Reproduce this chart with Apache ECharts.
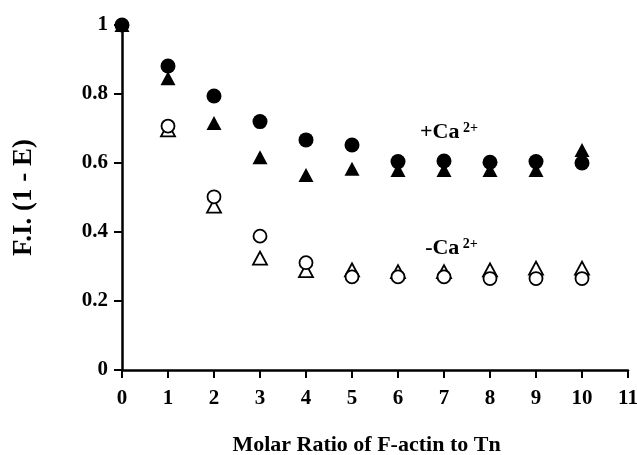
<!DOCTYPE html>
<html>
<head>
<meta charset="utf-8">
<script src="https://cdn.jsdelivr.net/npm/echarts@6/dist/echarts.min.js"></script>
<style>
  html, body { margin: 0; padding: 0; background: #fff; }
  #chart { width: 637px; height: 455px; }
</style>
</head>
<body>
<div id="chart"></div>
<script>
// Fluorescence intensity vs. molar ratio of F-actin to troponin
const ratios = [0, 1, 2, 3, 4, 5, 6, 7, 8, 9, 10];
const plusCaCircle   = [1.0, 0.881, 0.794, 0.72, 0.667, 0.652, 0.604, 0.606, 0.602, 0.604, 0.60];
const plusCaTriangle = [1.0, 0.846, 0.716, 0.617, 0.565, 0.583, 0.58, 0.58, 0.58, 0.58, 0.638];
const minusCaCircle   = [null, 0.707, 0.502, 0.388, 0.311, 0.27, 0.27, 0.27, 0.265, 0.265, 0.265];
const minusCaTriangle = [null, 0.696, 0.475, 0.324, 0.288, 0.29, 0.285, 0.285, 0.29, 0.295, 0.295];
const xTicks = [0, 1, 2, 3, 4, 5, 6, 7, 8, 9, 10, 11];
const yTicks = [0, 0.2, 0.4, 0.6, 0.8, 1];
const annotations = [
  { x: 6.48, y: 0.69, sign: '+' },
  { x: 6.59, y: 0.353, sign: '-' }
];

const FONT = '"Liberation Serif", "Times New Roman", serif';
const pairs = (vals) => ratios.map((r, i) => [r, vals[i]]).filter(p => p[1] !== null);

const chart = echarts.init(document.getElementById('chart'));
chart.setOption({
  backgroundColor: '#fff',
  animation: false,
  grid: { left: 122, right: 9, top: 25, bottom: 85, containLabel: false, outerBoundsMode: 'none' },
  xAxis: {
    type: 'value',
    min: xTicks[0],
    max: xTicks[xTicks.length - 1],
    interval: 1,
    name: 'Molar Ratio of F-actin to Tn',
    nameLocation: 'middle',
    nameGap: 64,
    nameTextStyle: { fontFamily: FONT, fontWeight: 'bold', fontSize: 22, color: '#000', padding: [0, 17, 0, 0] },
    axisLine: { lineStyle: { color: '#000', width: 2.5 } },
    axisTick: { show: true, length: 8, lineStyle: { color: '#000', width: 2 } },
    axisLabel: { fontFamily: FONT, fontWeight: 'bold', fontSize: 21, color: '#000', margin: 18 },
    splitLine: { show: false }
  },
  yAxis: {
    type: 'value',
    min: yTicks[0],
    max: yTicks[yTicks.length - 1],
    interval: 0.2,
    name: 'F.I. (1 - E)',
    nameLocation: 'middle',
    nameGap: 84,
    nameRotate: 90,
    nameTextStyle: { fontFamily: FONT, fontWeight: 'bold', fontSize: 27, color: '#000' },
    axisLine: { show: true, lineStyle: { color: '#000', width: 2.5 } },
    axisTick: { show: true, length: 8, lineStyle: { color: '#000', width: 2 } },
    axisLabel: { fontFamily: FONT, fontWeight: 'bold', fontSize: 21, color: '#000', margin: 14 },
    splitLine: { show: false }
  },
  series: [
    {
      name: '+Ca triangle', type: 'scatter', symbol: 'triangle', symbolSize: [15, 14],
      itemStyle: { color: '#000', opacity: 1 }, data: pairs(plusCaTriangle), z: 3
    },
    {
      name: '+Ca circle', type: 'scatter', symbol: 'circle', symbolSize: 15,
      itemStyle: { color: '#000', opacity: 1 }, data: pairs(plusCaCircle), z: 4
    },
    {
      name: '-Ca triangle', type: 'scatter', symbol: 'triangle', symbolSize: [14, 13],
      itemStyle: { color: '#fff', borderColor: '#000', borderWidth: 1.8, opacity: 1 },
      data: pairs(minusCaTriangle), z: 3
    },
    {
      name: '-Ca circle', type: 'scatter', symbol: 'circle', symbolSize: 13,
      itemStyle: { color: '#fff', borderColor: '#000', borderWidth: 1.8, opacity: 1 },
      data: pairs(minusCaCircle), z: 4
    },
    {
      name: 'labels', type: 'scatter', symbolSize: 0, silent: true,
      itemStyle: { opacity: 1 },
      data: annotations.map(a => ({ value: [a.x, a.y], sign: a.sign })),
      label: {
        show: true, position: 'right', distance: 0, opacity: 1,
        formatter: (p) => '{b|' + p.data.sign + 'Ca}{s| 2+}',
        rich: {
          b: { fontFamily: FONT, fontWeight: 'bold', fontSize: 22, color: '#000', verticalAlign: 'bottom' },
          s: { fontFamily: FONT, fontWeight: 'bold', fontSize: 14, color: '#000', verticalAlign: 'top' }
        }
      }
    }
  ]
});
</script>
</body>
</html>
